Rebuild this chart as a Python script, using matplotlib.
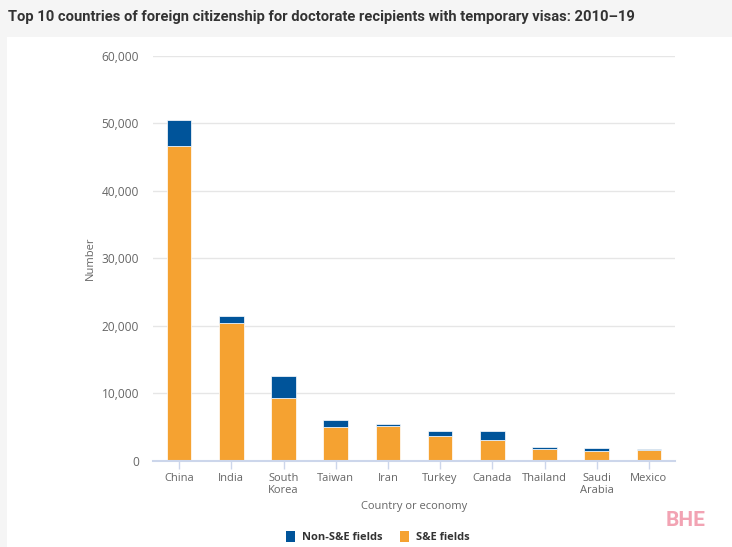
import matplotlib
matplotlib.use("Agg")
import matplotlib.pyplot as plt
from matplotlib.patches import Rectangle, Patch
from matplotlib.ticker import FuncFormatter, MultipleLocator

countries = ["China", "India", "South\nKorea", "Taiwan", "Iran", "Turkey",
             "Canada", "Thailand", "Saudi\nArabia", "Mexico"]
se_fields = [46700, 20350, 9350, 5000, 5150, 3700, 3000, 1770, 1430, 1530]
non_se_fields = [3800, 1150, 3200, 1080, 330, 740, 1350, 300, 440, 220]

title = "Top 10 countries of foreign citizenship for doctorate recipients with temporary visas: 2010\u201319"
blue = "#00549a"
orange = "#f5a231"

plt.rcParams['font.family'] = ['Open Sans', 'DejaVu Sans']

W, H = 732, 547
fig = plt.figure(figsize=(W / 100, H / 100), dpi=100)
fig.patch.set_facecolor("#f5f5f5")
fig.patches.append(Rectangle((7 / W, 0), 1 - 7 / W, 1 - 37 / H, transform=fig.transFigure,
                             facecolor="white", edgecolor="none", zorder=-5))

fig.text(8 / W, 1 - 17 / H, title, fontsize=10.6, fontweight="bold", color="#333333",
         family=['Roboto', 'DejaVu Sans'], va="center", ha="left")

ax = fig.add_axes([153 / W, 1 - 460.6 / H, (675 - 153) / W, (460.6 - 56) / H])
ax.set_zorder(2)
ax.set_facecolor("white")
x = list(range(len(countries)))
ax.bar(x, se_fields, width=0.47, color=orange, edgecolor="white", linewidth=0.5, zorder=3,
       label="S&E fields")
ax.bar(x, non_se_fields, bottom=se_fields, width=0.47, color=blue, edgecolor="white",
       linewidth=0.5, zorder=3, label="Non-S&E fields")

ax.set_xlim(-0.5, len(countries) - 0.5)
ax.set_ylim(0, 60000)
ax.yaxis.set_major_locator(MultipleLocator(10000))
ax.yaxis.set_major_formatter(FuncFormatter(lambda v, p: f"{int(v):,}"))
ax.grid(axis="y", color="#e6e6e6", linewidth=1, zorder=0)
ax.set_axisbelow(True)
for s in ["top", "right", "left"]:
    ax.spines[s].set_visible(False)
ax.spines["bottom"].set_color("#ccd6eb")
ax.spines["bottom"].set_linewidth(1.5)
ax.spines["bottom"].set_zorder(4)
ax.set_xticks(x)
ax.set_xticklabels(countries, fontsize=8, color="#666666", linespacing=1.05)
ax.tick_params(axis="x", length=6, color="#ccd6eb", width=1, pad=3)
ax.tick_params(axis="y", length=0, labelsize=8.6, labelcolor="#666666", pad=10)

ax.set_ylabel("Number", fontsize=8, color="#666666", va="center")
ax.yaxis.set_label_coords((90 - 153) / (675 - 153), 0.5)
ax.set_xlabel("Country or economy", fontsize=8, color="#666666")
ax.xaxis.set_label_coords(0.5, -(506 - 460.6) / (460.6 - 56))
ax.xaxis.label.set_va("center")

handles = [Patch(facecolor=blue, edgecolor="none"), Patch(facecolor=orange, edgecolor="none")]
leg = fig.legend(handles, ["Non-S&E fields", "S&E fields"], loc="center",
                 bbox_to_anchor=(378 / W, 1 - 537 / H), ncol=2, frameon=False,
                 prop={"weight": "bold", "size": 8}, handlelength=0.8, handleheight=1.1,
                 handletextpad=0.6, columnspacing=1.6)
for t in leg.get_texts():
    t.set_color("#333333")

fig.text(686 / W, 1 - 520 / H, "BHE", fontsize=15, fontweight="bold", color="#f2a3b3",
         ha="center", va="center", family=['Roboto', 'DejaVu Sans'])

fig.savefig("out.png", dpi=100, facecolor=fig.get_facecolor())
